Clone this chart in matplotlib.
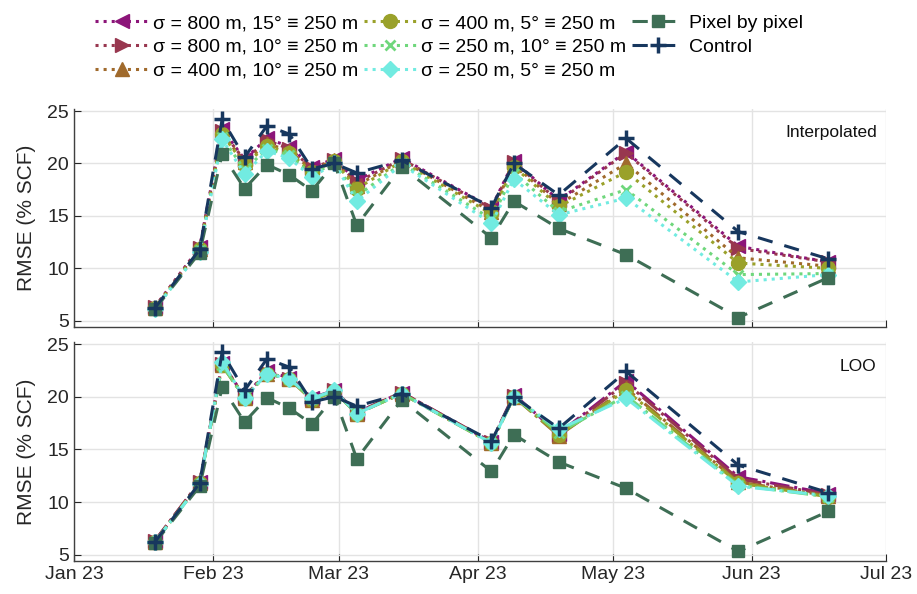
import numpy as np
import pandas as pd
import matplotlib
matplotlib.use("Agg")
import matplotlib.pyplot as plt
import matplotlib.dates as mdates

plt.rcParams["font.family"] = ["Liberation Sans", "DejaVu Sans"]

# acquisition dates (2023)
dates = pd.to_datetime([
    "2023-01-19", "2023-01-29", "2023-02-03", "2023-02-08", "2023-02-13",
    "2023-02-18", "2023-02-23", "2023-02-28", "2023-03-05", "2023-03-15",
    "2023-04-04", "2023-04-09", "2023-04-19", "2023-05-04", "2023-05-29",
    "2023-06-18",
])

labels = [
    "σ = 800 m, 15° ≡ 250 m",
    "σ = 800 m, 10° ≡ 250 m",
    "σ = 400 m, 10° ≡ 250 m",
    "σ = 400 m, 5° ≡ 250 m",
    "σ = 250 m, 10° ≡ 250 m",
    "σ = 250 m, 5° ≡ 250 m",
    "Pixel by pixel",
    "Control",
]

pixel = [6.1, 11.5, 20.9, 17.6, 19.9, 18.9, 17.4, 20.0, 14.1, 19.7, 12.9, 16.4, 13.8, 11.3, 5.3, 9.1]
control = [6.2, 11.8, 24.2, 20.6, 23.6, 22.8, 19.5, 20.0, 19.1, 20.3, 15.8, 20.0, 17.0, 22.4, 13.5, 10.9]

# interpolated RMSE per kernel setting
interp_800_15 = [6.3, 12.0, 23.3, 20.4, 22.4, 21.6, 19.7, 20.4, 18.4, 20.5, 15.8, 20.2, 16.5, 21.1, 12.1, 10.6]
interp_800_10 = [6.3, 11.9, 23.1, 20.3, 22.2, 21.4, 19.6, 20.3, 18.2, 20.4, 15.7, 20.1, 16.4, 21.0, 11.9, 10.6]
interp_400_10 = [6.2, 11.8, 22.9, 20.1, 21.9, 21.2, 19.4, 20.3, 17.9, 20.3, 15.4, 19.9, 16.1, 20.0, 11.0, 10.2]
interp_400_5 = [6.2, 11.8, 22.8, 19.9, 21.7, 21.0, 19.2, 20.2, 17.6, 20.2, 15.2, 19.7, 15.9, 19.2, 10.5, 10.0]
interp_250_10 = [6.1, 11.7, 22.5, 19.4, 21.4, 20.8, 18.9, 20.1, 16.9, 20.0, 14.7, 19.1, 15.4, 17.5, 9.4, 9.5]
interp_250_5 = [6.1, 11.6, 22.3, 19.0, 21.2, 20.5, 18.7, 20.0, 16.4, 19.9, 14.3, 18.5, 15.1, 16.7, 8.7, 9.4]

# leave-one-out RMSE per kernel setting
loo_800_15 = [6.3, 11.9, 23.2, 20.0, 22.4, 21.8, 19.9, 20.6, 18.5, 20.4, 15.7, 20.2, 16.5, 21.5, 12.4, 10.8]
loo_800_10 = [6.3, 11.9, 23.1, 20.0, 22.3, 21.7, 19.8, 20.6, 18.5, 20.4, 15.7, 20.1, 16.4, 21.3, 12.2, 10.7]
loo_400_10 = [6.2, 11.8, 23.0, 19.9, 22.2, 21.7, 19.7, 20.5, 18.4, 20.3, 15.6, 20.0, 16.3, 20.8, 11.9, 10.6]
loo_400_5 = [6.2, 11.8, 23.0, 19.9, 22.2, 21.7, 19.7, 20.5, 18.4, 20.3, 15.6, 20.0, 16.4, 20.6, 11.8, 10.5]
loo_250_10 = [6.2, 11.7, 23.0, 19.9, 22.2, 21.7, 19.8, 20.5, 18.4, 20.3, 15.6, 20.0, 16.6, 20.1, 11.6, 10.5]
loo_250_5 = [6.2, 11.7, 23.3, 19.85, 22.2, 21.7, 19.85, 20.6, 18.4, 20.3, 15.6, 20.0, 16.9, 19.85, 11.5, 10.6]

colors = ["#8c1579", "#98374f", "#a06a2c", "#9aa12a", "#6fd77c", "#72ebe1", "#3e6e55", "#17375e"]
markers = ["<", ">", "^", "o", "x", "D", "s", "+"]
msizes = [10, 10, 10, 10, 7, 8, 8, 11]


def draw_panel(ax, series, style, tag):
    for vals, c, m, ms in zip(series, colors[:6], markers[:6], msizes[:6]):
        ax.plot(dates, vals, linestyle=style, color=c, marker=m, markersize=ms,
                linewidth=2.2, markeredgewidth=2 if m == "x" else 1)
    ax.plot(dates, pixel, linestyle=(0, (5, 4)), color=colors[6], marker="s",
            markersize=msizes[6], linewidth=2.2)
    ax.plot(dates, control, linestyle=(0, (5, 4)), color=colors[7], marker="+",
            markersize=msizes[7], markeredgewidth=2.5, linewidth=2.2)

    ax.set_xlim(pd.Timestamp("2023-01-01"), pd.Timestamp("2023-07-01"))
    ax.set_ylim(4.4, 25.2)
    ax.set_yticks([5, 10, 15, 20, 25])
    ax.xaxis.set_major_locator(mdates.MonthLocator())
    ax.xaxis.set_major_formatter(mdates.DateFormatter("%b %y"))
    ax.grid(True, color="#e3e3e3", linewidth=1)
    ax.set_axisbelow(True)
    for side in ["top", "right"]:
        ax.spines[side].set_visible(False)
    for side in ["left", "bottom"]:
        ax.spines[side].set_color("#404040")
        ax.spines[side].set_linewidth(1)
    ax.tick_params(direction="in", length=5, labelsize=14, colors="#262626")
    ax.set_ylabel("RMSE (% SCF)", fontsize=15, color="#262626")
    ax.yaxis.set_label_coords(-0.047, 0.5)
    ax.text(0.988, 0.89, tag, transform=ax.transAxes, ha="right", va="center",
            fontsize=12.5, color="#111111")


fig = plt.figure(figsize=(9.17, 5.94), dpi=100)
ax_top = fig.add_axes([0.0807, 0.4495, 0.886, 0.367])
ax_bot = fig.add_axes([0.0807, 0.0556, 0.886, 0.3687])

draw_panel(ax_top, [interp_800_15, interp_800_10, interp_400_10, interp_400_5,
                    interp_250_10, interp_250_5], ":", "Interpolated")
draw_panel(ax_bot, [loo_800_15, loo_800_10, loo_400_10, loo_400_5,
                    loo_250_10, loo_250_5], "-.", "LOO")
ax_top.tick_params(labelbottom=False)

handles = ax_top.get_lines()
fig.legend(handles, labels, ncol=3, loc="upper center", bbox_to_anchor=(0.49, 1.005),
           frameon=False, fontsize=14, handlelength=2.7, columnspacing=0.3,
           handletextpad=0.25, labelspacing=0.32)

fig.savefig("out.png", dpi=100)
